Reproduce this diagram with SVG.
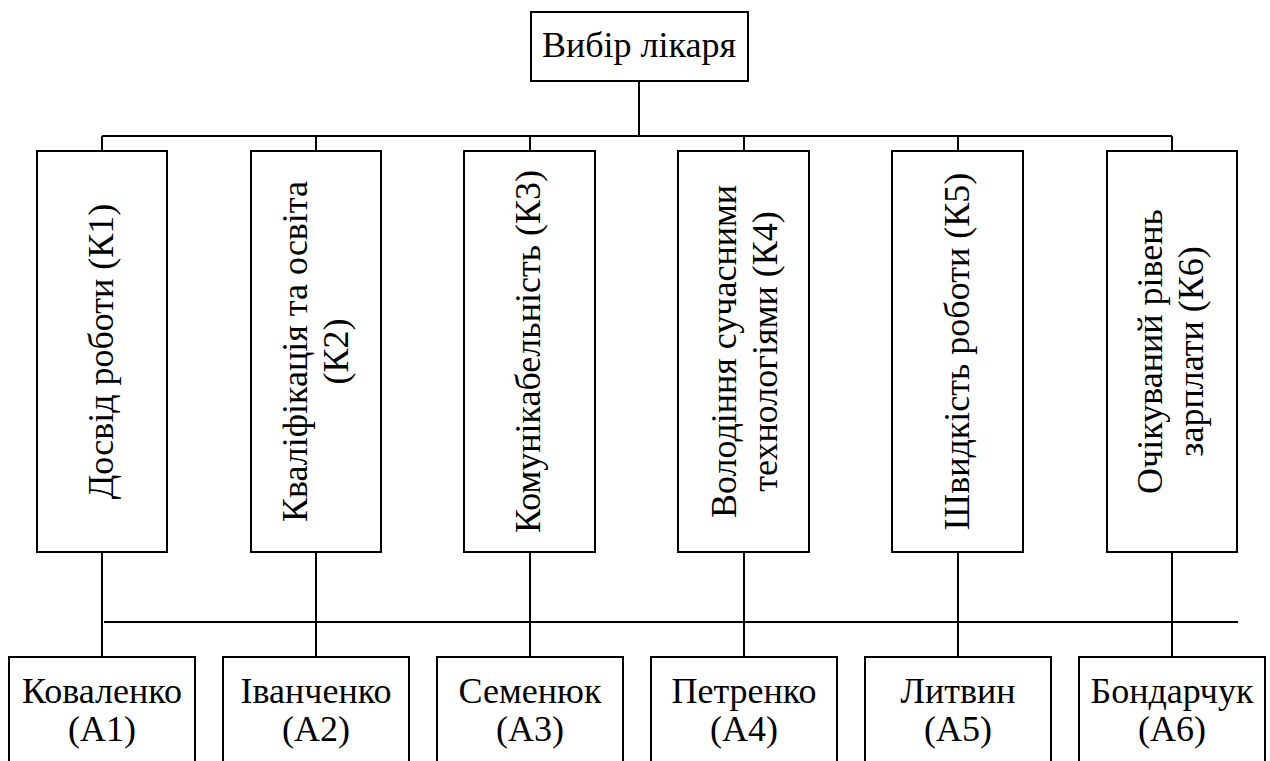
<svg xmlns="http://www.w3.org/2000/svg" width="1270" height="761" viewBox="0 0 1270 761">
<style>
.box{fill:#fff;stroke:#000;stroke-width:2}
.ln{stroke:#000;stroke-width:2;fill:none}
</style>
<rect width="1270" height="761" fill="#fff"/>
<g id="connectors">
<path class="ln" d="M639,81V136M102,136H1172M102,136V151M316,136V151M530,136V151M744,136V151M958,136V151M1172,136V151"/>
<path class="ln" d="M102,552V657M316,552V657M530,552V657M744,552V657M958,552V657M1172,552V657M104,622H1238"/>
</g>
<g id="root"><rect class="box" x="531" y="12" width="217" height="69"/><text style="font-family:'Liberation Serif',serif;font-size:36px;text-anchor:middle" x="639" y="57">Вибір лікаря</text></g>
<g id="k1"><rect class="box" x="37" y="151" width="130" height="401"/><text style="font-family:'Liberation Serif',serif;font-size:36px;text-anchor:middle" transform="translate(102,351.5) rotate(-90)" y="11">Досвід роботи (К1)</text></g>
<g id="k2"><rect class="box" x="251" y="151" width="130" height="401"/><text style="font-family:'Liberation Serif',serif;font-size:36px;text-anchor:middle" transform="translate(316,351.5) rotate(-90)" y="-9">Кваліфікація та освіта</text><text style="font-family:'Liberation Serif',serif;font-size:36px;text-anchor:middle" transform="translate(316,351.5) rotate(-90)" y="32">(К2)</text></g>
<g id="k3"><rect class="box" x="464" y="151" width="131" height="401"/><text style="font-family:'Liberation Serif',serif;font-size:36px;text-anchor:middle" transform="translate(530,351.5) rotate(-90)" y="10">Комунікабельність (К3)</text></g>
<g id="k4"><rect class="box" x="678" y="151" width="131" height="401"/><text style="font-family:'Liberation Serif',serif;font-size:36px;text-anchor:middle" transform="translate(744,351.5) rotate(-90)" y="-8">Володіння сучасними</text><text style="font-family:'Liberation Serif',serif;font-size:36px;text-anchor:middle" transform="translate(744,351.5) rotate(-90)" y="33">технологіями (К4)</text></g>
<g id="k5"><rect class="box" x="892" y="151" width="131" height="401"/><text style="font-family:'Liberation Serif',serif;font-size:36px;text-anchor:middle" transform="translate(958,351.5) rotate(-90)" y="11">Швидкість роботи (К5)</text></g>
<g id="k6"><rect class="box" x="1107" y="151" width="130" height="401"/><text style="font-family:'Liberation Serif',serif;font-size:36px;text-anchor:middle" transform="translate(1172,351.5) rotate(-90)" y="-10">Очікуваний рівень</text><text style="font-family:'Liberation Serif',serif;font-size:36px;text-anchor:middle" transform="translate(1172,351.5) rotate(-90)" y="31">зарплати (К6)</text></g>
<g id="a1"><rect class="box" x="9" y="657" width="186" height="140"/><text style="font-family:'Liberation Serif',serif;font-size:36px;text-anchor:middle" x="102" y="703">Коваленко</text><text style="font-family:'Liberation Serif',serif;font-size:36px;text-anchor:middle" x="102" y="741">(А1)</text></g>
<g id="a2"><rect class="box" x="223" y="657" width="186" height="140"/><text style="font-family:'Liberation Serif',serif;font-size:36px;text-anchor:middle" x="316" y="703">Іванченко</text><text style="font-family:'Liberation Serif',serif;font-size:36px;text-anchor:middle" x="316" y="741">(А2)</text></g>
<g id="a3"><rect class="box" x="437" y="657" width="186" height="140"/><text style="font-family:'Liberation Serif',serif;font-size:36px;text-anchor:middle" x="530" y="703">Семенюк</text><text style="font-family:'Liberation Serif',serif;font-size:36px;text-anchor:middle" x="530" y="741">(А3)</text></g>
<g id="a4"><rect class="box" x="651" y="657" width="186" height="140"/><text style="font-family:'Liberation Serif',serif;font-size:36px;text-anchor:middle" x="744" y="703">Петренко</text><text style="font-family:'Liberation Serif',serif;font-size:36px;text-anchor:middle" x="744" y="741">(А4)</text></g>
<g id="a5"><rect class="box" x="865" y="657" width="186" height="140"/><text style="font-family:'Liberation Serif',serif;font-size:36px;text-anchor:middle" x="958" y="703">Литвин</text><text style="font-family:'Liberation Serif',serif;font-size:36px;text-anchor:middle" x="958" y="741">(А5)</text></g>
<g id="a6"><rect class="box" x="1079" y="657" width="186" height="140"/><text style="font-family:'Liberation Serif',serif;font-size:36px;text-anchor:middle" x="1172" y="703">Бондарчук</text><text style="font-family:'Liberation Serif',serif;font-size:36px;text-anchor:middle" x="1172" y="741">(А6)</text></g>
</svg>
